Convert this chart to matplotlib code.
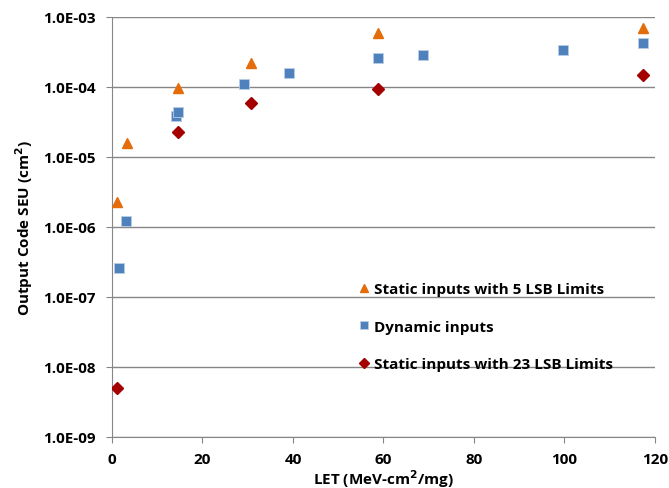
import matplotlib.pyplot as plt
from matplotlib.ticker import FixedLocator, FuncFormatter

plt.rcParams['font.family'] = ['Open Sans', 'DejaVu Sans']
plt.rcParams['font.weight'] = 'bold'

# LET values (MeV-cm2/mg) and cross sections (cm2)
let_static5 = [1, 3.3, 14.5, 30.8, 58.7, 117.4]
seu_static5 = [2.3e-6, 1.6e-5, 9.8e-5, 2.2e-4, 6.0e-4, 6.9e-4]

let_dynamic = [1.5, 3.0, 14.1, 14.5, 29.2, 39.2, 58.7, 68.8, 99.6, 117.4]
seu_dynamic = [2.6e-7, 1.2e-6, 3.8e-5, 4.4e-5, 1.1e-4, 1.57e-4, 2.6e-4, 2.9e-4, 3.4e-4, 4.2e-4]

let_static23 = [1, 14.5, 30.8, 58.7, 117.4]
seu_static23 = [5e-9, 2.3e-5, 5.9e-5, 9.3e-5, 1.5e-4]

labels = ['Static inputs with 5 LSB Limits', 'Dynamic inputs',
          'Static inputs with 23 LSB Limits']

fig = plt.figure(figsize=(6.69, 4.89), dpi=100)
ax = fig.add_axes([0.1674, 0.1043, 0.8116, 0.8589])

ax.semilogy(let_static5, seu_static5, '^', color='#E46C0A', ms=7.5,
            mec='#E46C0A', label=labels[0], zorder=3)
ax.semilogy(let_dynamic, seu_dynamic, 's', color='#4F81BD', ms=7.5,
            mec='#B9CDE5', mew=0.6, label=labels[1], zorder=3)
ax.semilogy(let_static23, seu_static23, 'D', color='#A50000', ms=6,
            mec='#A50000', label=labels[2], zorder=3)

ax.set_xlim(0, 120)
ax.set_ylim(1e-9, 1e-3)
ax.set_xticks(range(0, 121, 20))
ax.yaxis.set_major_locator(FixedLocator([10.0 ** k for k in range(-9, -2)]))
ax.yaxis.set_minor_locator(FixedLocator([]))
ax.yaxis.set_major_formatter(FuncFormatter(lambda v, p: '%.1E' % v))

ax.grid(True, axis='y', color='#868686', lw=1)
ax.set_axisbelow(True)
for s in ['top', 'right']:
    ax.spines[s].set_visible(False)
for s in ['left', 'bottom']:
    ax.spines[s].set_color('#868686')
ax.tick_params(axis='both', color='#868686', length=4.5, labelsize=11)
ax.tick_params(axis='y', pad=7)
ax.tick_params(axis='x', pad=6)
for t in ax.get_xticklabels() + ax.get_yticklabels():
    t.set_fontweight('bold')

ax.set_xlabel('LET (MeV-cm$^2$/mg)', fontsize=11, fontweight='bold', labelpad=1)
ax.set_ylabel('Output Code SEU (cm$^2$)', fontsize=11, fontweight='bold', labelpad=6)

leg = ax.legend(loc='upper left', bbox_to_anchor=(0.43, 0.402), frameon=False,
                prop={'size': 11, 'weight': 'bold'}, handlelength=0.6,
                handletextpad=0.4, labelspacing=1.55, markerscale=0.8)

fig.savefig('out.png', dpi=100)
